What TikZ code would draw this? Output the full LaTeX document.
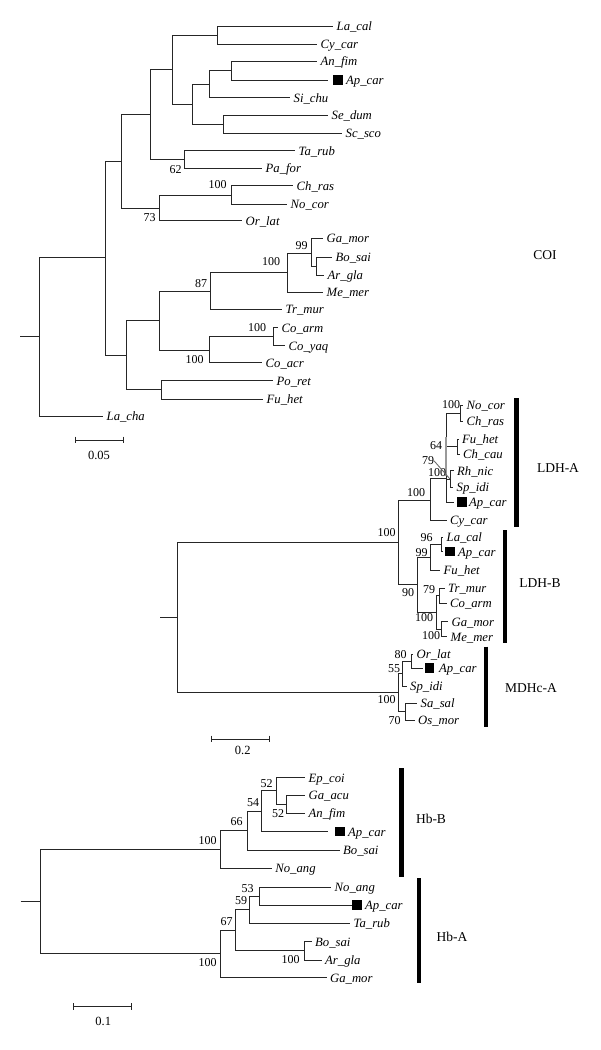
\documentclass[tikz,border=0pt]{standalone}
\usepackage{fontspec}
\setmainfont{Liberation Serif}
\newcommand\tleaf[5]{%
  \coordinate (#2) at (#3,#4);
  \draw[br] (#1) |- (#2);
  \node[taxon] (#2t) at (#3+3.5,#4+4.5) {#5};}
\newcommand\tap[6]{%
  \coordinate (#2) at (#3,#4);
  \draw[br] (#1) |- (#2);
  \node[sq] (#2s) at (#5+4.75,#4) {};
  \node[taxon] (#2t) at (#6,#4+4.5) {Ap\_car};}
\begin{document}
\begin{tikzpicture}[x=1pt,y=-1pt,
  br/.style={line width=0.85pt, draw=black!85},
  taxon/.style={font=\fontsize{12.7}{14}\selectfont\itshape, inner sep=0pt, anchor=base west},
  bs/.style={font=\fontsize{12}{14}\selectfont, inner sep=0pt},
  grp/.style={font=\fontsize{13.5}{16}\selectfont, inner sep=0pt},
  gbar/.style={line width=4.8pt, draw=black},
  sq/.style={fill=black, minimum size=9.5pt, inner sep=0pt},
  sbar/.style={line width=0.9pt, draw=black!85}
]
\useasboundingbox[fill=white] (0,0) rectangle (600,1050);

% ================= COI =================
\coordinate (cS) at (20,336.5);
\coordinate (cR) at (39,336.5);
\draw[br] (cS) -- (cR);
\coordinate (cA) at (105,257.5);
\coordinate (cB) at (121,161);
\coordinate (cC) at (150,114.5);
\coordinate (cD) at (172,69.5);
\coordinate (cLC) at (217,35);
\coordinate (cE) at (192,104);
\coordinate (cF) at (209,84.2);
\coordinate (cAA) at (231,70.5);
\coordinate (cSS) at (223,124);
\coordinate (cTP) at (184,159.5);
\coordinate (cH) at (159,208);
\coordinate (cCN) at (231,195);
\coordinate (cK) at (126,355);
\coordinate (cL) at (159,320.7);
\coordinate (cM) at (210,291);
\coordinate (cN) at (287,272.7);
\coordinate (cO) at (311,253);
\coordinate (cBA) at (316,266.2);
\coordinate (cCo) at (209,350);
\coordinate (cCA) at (273,336.7);
\coordinate (cPF) at (161,389.8);
\foreach \p/\c in {cR/cA,cA/cB,cA/cK,cB/cC,cB/cH,cC/cD,cC/cTP,cD/cLC,cD/cE,cE/cF,cE/cSS,cF/cAA,cH/cCN,cK/cL,cK/cPF,cL/cM,cL/cCo,cM/cN,cN/cO,cO/cBA,cCo/cCA}
  \draw[br] (\p) |- (\c);
\tleaf{cLC}{cLa}{333}{26}{La\_cal}
\tleaf{cLC}{cCy}{317}{44}{Cy\_car}
\tleaf{cAA}{cAn}{317}{61}{An\_fim}
\tap{cAA}{cAp}{328}{80}{333}{346}
\tleaf{cF}{cSi}{290}{97.7}{Si\_chu}
\tleaf{cSS}{cSe}{328}{115}{Se\_dum}
\tleaf{cSS}{cSc}{342}{133}{Sc\_sco}
\tleaf{cTP}{cTa}{295}{150.7}{Ta\_rub}
\tleaf{cTP}{cPa}{262}{168.3}{Pa\_for}
\tleaf{cCN}{cCh}{293}{185.7}{Ch\_ras}
\tleaf{cCN}{cNo}{287}{204}{No\_cor}
\tleaf{cH}{cOr}{242}{220.7}{Or\_lat}
\tleaf{cO}{cGa}{323}{238.3}{Ga\_mor}
\tleaf{cBA}{cBo}{332}{257.3}{Bo\_sai}
\tleaf{cBA}{cAr}{324}{275}{Ar\_gla}
\tleaf{cN}{cMe}{323}{292.3}{Me\_mer}
\tleaf{cM}{cTr}{282}{309.3}{Tr\_mur}
\tleaf{cCA}{cCoa}{278}{327.7}{Co\_arm}
\tleaf{cCA}{cCoy}{285}{345.7}{Co\_yaq}
\tleaf{cCo}{cCoc}{262}{362.7}{Co\_acr}
\tleaf{cPF}{cPo}{273}{380.7}{Po\_ret}
\tleaf{cPF}{cFu}{263}{399}{Fu\_het}
\tleaf{cR}{cLch}{103}{416}{La\_cha}
\node[bs] (cb1) at (175.5,170) {62};
\node[bs] (cb2) at (149.5,217.5) {73};
\node[bs] (cb3) at (217.5,185) {100};
\node[bs] (cb4) at (301.5,246) {99};
\node[bs] (cb5) at (271,261.5) {100};
\node[bs] (cb6) at (201,283.5) {87};
\node[bs] (cb7) at (257,328) {100};
\node[bs] (cb8) at (194.5,359.5) {100};
\node[grp] (gCOI) at (545,255) {COI};
\coordinate (sc1a) at (75,440);
\coordinate (sc1b) at (123,440);
\draw[sbar] (sc1a) -- (sc1b);
\draw[sbar] ([yshift=3.3pt]sc1a) -- ([yshift=-3.3pt]sc1a);
\draw[sbar] ([yshift=3.3pt]sc1b) -- ([yshift=-3.3pt]sc1b);
\node[bs,font=\fontsize{12.5}{14}\selectfont] (sc1t) at (99,455) {0.05};

% ================= LDH / MDH =================
\coordinate (lS) at (160,617.2);
\coordinate (lR) at (177,617.2);
\draw[br] (lS) -- (lR);
\coordinate (lA) at (398.7,542);
\coordinate (lM) at (398.7,692.6);
\coordinate (lLA) at (430.7,500);
\coordinate (lA2) at (446,478);
\coordinate (lNC) at (460,413);
\coordinate (lFC) at (457.7,446.5);
\coordinate (lRS) at (450,479);
\coordinate (lLB) at (417.3,584.5);
\coordinate (l99) at (430,557);
\coordinate (l96) at (441,544.5);
\coordinate (lTG) at (436.7,612.3);
\coordinate (l79) at (439.3,595.5);
\coordinate (lGM) at (441.7,629);
\coordinate (l55) at (402.7,673.5);
\coordinate (l80) at (411.7,661);
\coordinate (lSO) at (405,711.7);
\foreach \p/\c in {lR/lA,lR/lM,lA/lLA,lA/lLB,lLA/lA2,lA2/lNC,lA2/lFC,lA2/lRS,lLB/l99,lLB/lTG,l99/l96,lTG/l79,lTG/lGM,lM/l55,lM/lSO,l55/l80}
  \draw[br] (\p) |- (\c);
\tleaf{lNC}{lNo}{463}{405}{No\_cor}
\tleaf{lNC}{lCh}{463}{421}{Ch\_ras}
\tleaf{lFC}{lFu}{458.5}{439}{Fu\_het}
\tleaf{lFC}{lCc}{459.5}{454}{Ch\_cau}
\tleaf{lRS}{lRh}{453.5}{470.5}{Rh\_nic}
\tleaf{lRS}{lSp}{453}{487}{Sp\_idi}
\tap{lA2}{lAp}{454}{502}{457}{469}
\tleaf{lLA}{lCy}{446.5}{520}{Cy\_car}
\tleaf{l96}{lLa}{443}{537.3}{La\_cal}
\tap{l96}{lAp2}{443}{551.7}{445}{458}
\tleaf{l99}{lFu2}{440}{570}{Fu\_het}
\tleaf{l79}{lTr}{444.5}{588}{Tr\_mur}
\tleaf{l79}{lCo}{446.5}{603}{Co\_arm}
\tleaf{lGM}{lGa}{448}{621.5}{Ga\_mor}
\tleaf{lGM}{lMe}{447}{636.5}{Me\_mer}
\tleaf{l80}{lOr}{413}{654}{Or\_lat}
\tap{l80}{lAp3}{423}{668}{424.5}{439}
\tleaf{l55}{lSp2}{406.5}{686}{Sp\_idi}
\tleaf{lSO}{lSa}{417}{703.3}{Sa\_sal}
\tleaf{lSO}{lOs}{414.5}{720}{Os\_mor}
\draw[line width=1.6pt, draw=black!40] (446,437) -- (446,476);
\node[bs] (lb1) at (386.5,533) {100};
\node[bs] (lb2) at (416,493) {100};
\node[bs] (lb3) at (437,473) {100};
\node[bs] (lb4) at (428,461) {79};
\draw[br,draw=black!60] (lb4.east) -- (lRS);
\node[bs] (lb5) at (436,446) {64};
\node[bs] (lb6) at (451,405) {100};
\node[bs] (lb7) at (426.5,538) {96};
\node[bs] (lb8) at (421.5,552.5) {99};
\node[bs] (lb9) at (408,593) {90};
\node[bs] (lb10) at (429,589.5) {79};
\node[bs] (lb11) at (424,618) {100};
\node[bs] (lb12) at (431,635.5) {100};
\node[bs] (lb13) at (400.5,654.5) {80};
\node[bs] (lb14) at (394,669) {55};
\node[bs] (lb15) at (386.5,699.5) {100};
\node[bs] (lb16) at (394.5,720.3) {70};
\coordinate (gA1) at (516.7,398);  \coordinate (gA2) at (516.7,527.3);
\coordinate (gB1) at (505,530);    \coordinate (gB2) at (505,643.3);
\coordinate (gM1) at (486,646.7);  \coordinate (gM2) at (486,726.7);
\draw[gbar] (gA1) -- (gA2);
\draw[gbar] (gB1) -- (gB2);
\draw[gbar] (gM1) -- (gM2);
\node[grp] (gLA) at (558,468) {LDH-A};
\node[grp] (gLB) at (540,583) {LDH-B};
\node[grp] (gMD) at (531,688) {MDHc-A};
\coordinate (sc2a) at (211.7,739);
\coordinate (sc2b) at (269.3,739);
\draw[sbar] (sc2a) -- (sc2b);
\draw[sbar] ([yshift=3.3pt]sc2a) -- ([yshift=-3.3pt]sc2a);
\draw[sbar] ([yshift=3.3pt]sc2b) -- ([yshift=-3.3pt]sc2b);
\node[bs,font=\fontsize{12.5}{14}\selectfont] (sc2t) at (242.7,750) {0.2};

% ================= Hb =================
\coordinate (hS) at (20.7,901.5);
\coordinate (hR) at (40,901.5);
\draw[br] (hS) -- (hR);
\coordinate (hB) at (220,849.5);
\coordinate (hA) at (220,953.5);
\coordinate (h66) at (247.3,830.8);
\coordinate (h54) at (261.7,811.2);
\coordinate (h52a) at (276,790.7);
\coordinate (h52b) at (286.7,804.2);
\coordinate (h67) at (235.7,930.3);
\coordinate (h59) at (249.3,909.7);
\coordinate (h53) at (259.3,896.2);
\coordinate (hBA) at (304,950.8);
\foreach \p/\c in {hR/hB,hR/hA,hB/h66,h66/h54,h54/h52a,h52a/h52b,hA/h67,h67/h59,h59/h53,h67/hBA}
  \draw[br] (\p) |- (\c);
\tleaf{h52a}{hEp}{305}{777.5}{Ep\_coi}
\tleaf{h52b}{hGa}{305}{795}{Ga\_acu}
\tleaf{h52b}{hAn}{305}{813.3}{An\_fim}
\tap{h54}{hAp}{328.3}{831.7}{335}{348}
\tleaf{h66}{hBo}{339.5}{850}{Bo\_sai}
\tleaf{hB}{hNo}{271.7}{868.3}{No\_ang}
\tleaf{h53}{hNo2}{331}{887.3}{No\_ang}
\tap{h53}{hAp2}{351.7}{905}{352}{365}
\tleaf{h59}{hTa}{350}{923.3}{Ta\_rub}
\tleaf{hBA}{hBo2}{311.5}{941.7}{Bo\_sai}
\tleaf{hBA}{hAr}{321.5}{960}{Ar\_gla}
\tleaf{hA}{hGm}{326.5}{977.7}{Ga\_mor}
\node[bs] (hb1) at (266.5,784) {52};
\node[bs] (hb2) at (253,802.5) {54};
\node[bs] (hb3) at (278,813.5) {52};
\node[bs] (hb4) at (236.7,821.7) {66};
\node[bs] (hb5) at (207.5,841) {100};
\node[bs] (hb6) at (247.5,889) {53};
\node[bs] (hb7) at (241,901) {59};
\node[bs] (hb8) at (226.7,921.7) {67};
\node[bs] (hb9) at (290.5,959.5) {100};
\node[bs] (hb10) at (207.5,962.5) {100};
\coordinate (gHB1) at (401.7,768.3); \coordinate (gHB2) at (401.7,876.7);
\coordinate (gHA1) at (419,878.3);   \coordinate (gHA2) at (419,983.3);
\draw[gbar] (gHB1) -- (gHB2);
\draw[gbar] (gHA1) -- (gHA2);
\node[grp] (gHBt) at (431,819) {Hb-B};
\node[grp] (gHAt) at (452,937) {Hb-A};
\coordinate (sc3a) at (73.3,1006.7);
\coordinate (sc3b) at (131.7,1006.7);
\draw[sbar] (sc3a) -- (sc3b);
\draw[sbar] ([yshift=3.3pt]sc3a) -- ([yshift=-3.3pt]sc3a);
\draw[sbar] ([yshift=3.3pt]sc3b) -- ([yshift=-3.3pt]sc3b);
\node[bs,font=\fontsize{12.5}{14}\selectfont] (sc3t) at (103.3,1021.7) {0.1};
\end{tikzpicture}
\end{document}
